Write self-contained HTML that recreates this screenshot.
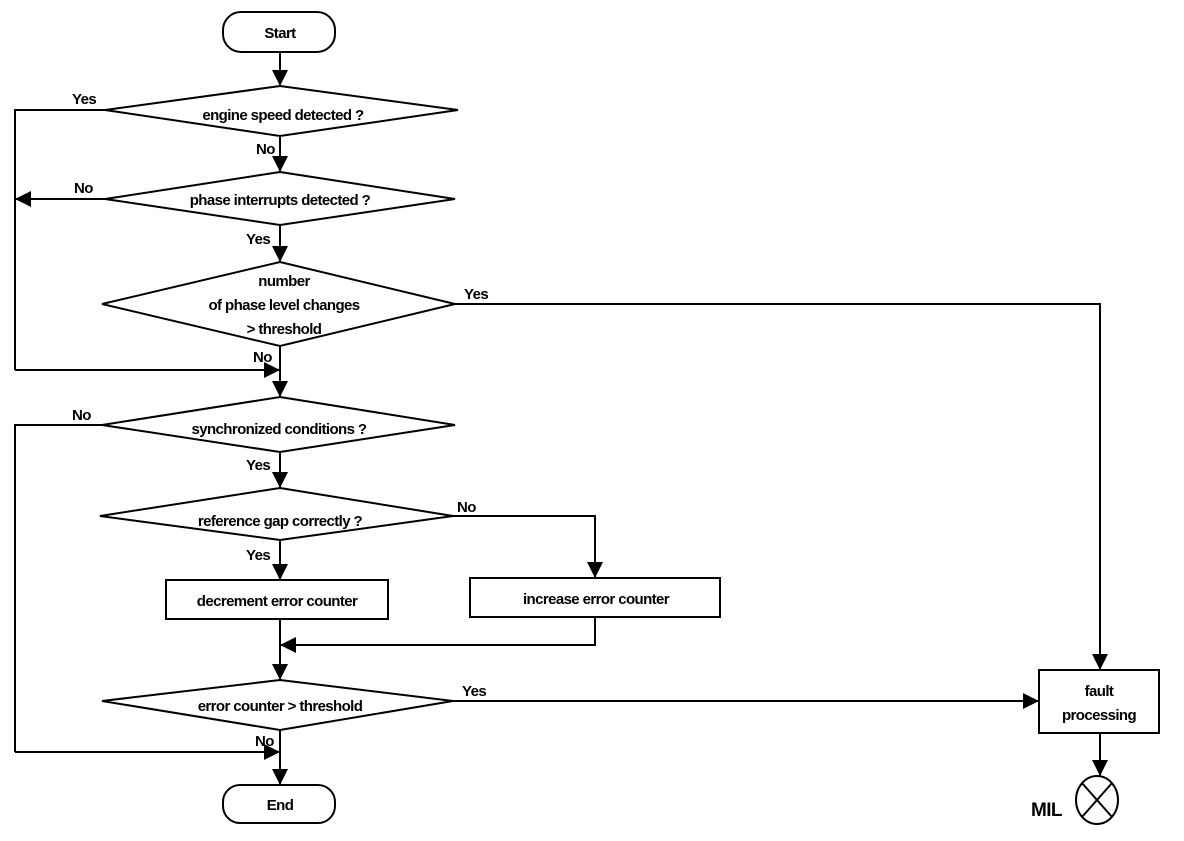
<!DOCTYPE html>
<html><head><meta charset="utf-8"><style>
html,body{margin:0;padding:0;background:#fff;}
svg text{font-family:"Liberation Sans",Arial,sans-serif;font-size:15px;font-weight:bold;letter-spacing:-0.6px;fill:#000;}
</style></head><body>
<svg width="1184" height="836" viewBox="0 0 1184 836" xmlns="http://www.w3.org/2000/svg">
<defs>
<marker id="a" viewBox="0 0 10 10" refX="10" refY="5" markerWidth="16" markerHeight="16" markerUnits="userSpaceOnUse" orient="auto"><path d="M0,0 L10,5 L0,10 z" fill="#000"/></marker>
</defs>
<g fill="none" stroke="#000" stroke-width="2">
<!-- Start -->
<rect x="223" y="12" width="112" height="40" rx="18"/>
<line x1="280" y1="52" x2="280" y2="86" marker-end="url(#a)"/>
<polygon points="280,86 458,110 280,136 105,110"/>
<line x1="280" y1="136" x2="280" y2="172" marker-end="url(#a)"/>
<polygon points="280,172 455,199 280,225 105,199"/>
<line x1="280" y1="225" x2="280" y2="262" marker-end="url(#a)"/>
<polygon points="280,262 455,304 280,346 102,304"/>
<polyline points="105,110 15,110 15,370"/>
<line x1="105" y1="199" x2="15" y2="199" marker-end="url(#a)"/>
<line x1="15" y1="370" x2="280" y2="370" marker-end="url(#a)"/>
<line x1="280" y1="346" x2="280" y2="397" marker-end="url(#a)"/>
<polyline points="455,304 1100,304 1100,670" marker-end="url(#a)"/>
<polygon points="280,397 455,425 280,452 102,425"/>
<polyline points="102,425 15,425 15,752"/>
<line x1="15" y1="752" x2="280" y2="752" marker-end="url(#a)"/>
<line x1="280" y1="452" x2="280" y2="488" marker-end="url(#a)"/>
<polygon points="280,488 453,516 280,540 100,516"/>
<polyline points="453,516 595,516 595,578" marker-end="url(#a)"/>
<line x1="280" y1="540" x2="280" y2="580" marker-end="url(#a)"/>
<rect x="166" y="580" width="222" height="39"/>
<rect x="470" y="578" width="250" height="39"/>
<line x1="280" y1="619" x2="280" y2="680" marker-end="url(#a)"/>
<polyline points="595,617 595,645 280,645" marker-end="url(#a)"/>
<polygon points="280,680 453,701 280,730 102,701"/>
<line x1="453" y1="701" x2="1039" y2="701" marker-end="url(#a)"/>
<line x1="280" y1="730" x2="280" y2="785" marker-end="url(#a)"/>
<rect x="223" y="785" width="112" height="38" rx="17"/>
<rect x="1039" y="670" width="120" height="63"/>
<line x1="1100" y1="733" x2="1100" y2="776" marker-end="url(#a)"/>
<ellipse cx="1097" cy="800" rx="21" ry="24"/>
<line x1="1082" y1="783" x2="1112" y2="817"/>
<line x1="1112" y1="783" x2="1082" y2="817"/>
</g>
<g text-anchor="middle">
<text x="280" y="38">Start</text>
<text x="283" y="120">engine speed detected ?</text>
<text x="280" y="205">phase interrupts detected ?</text>
<text x="284" y="286">number</text>
<text x="284" y="310">of phase level changes</text>
<text x="284" y="334">&gt; threshold</text>
<text x="279" y="434">synchronized conditions ?</text>
<text x="280" y="526">reference  gap correctly ?</text>
<text x="277" y="606">decrement error counter</text>
<text x="596" y="604">increase error counter</text>
<text x="280" y="711">error counter &gt; threshold</text>
<text x="280" y="810">End</text>
<text x="1099" y="696">fault</text>
<text x="1099" y="720">processing</text>
</g>
<text x="72" y="104">Yes</text>
<text x="256" y="154">No</text>
<text x="74" y="193">No</text>
<text x="246" y="244">Yes</text>
<text x="464" y="299">Yes</text>
<text x="253" y="362">No</text>
<text x="72" y="420">No</text>
<text x="246" y="470">Yes</text>
<text x="457" y="512">No</text>
<text x="246" y="560">Yes</text>
<text x="462" y="696">Yes</text>
<text x="255" y="746">No</text>
<text x="1031" y="816" style="font-size:19px">MIL</text>
</svg>
</body></html>
